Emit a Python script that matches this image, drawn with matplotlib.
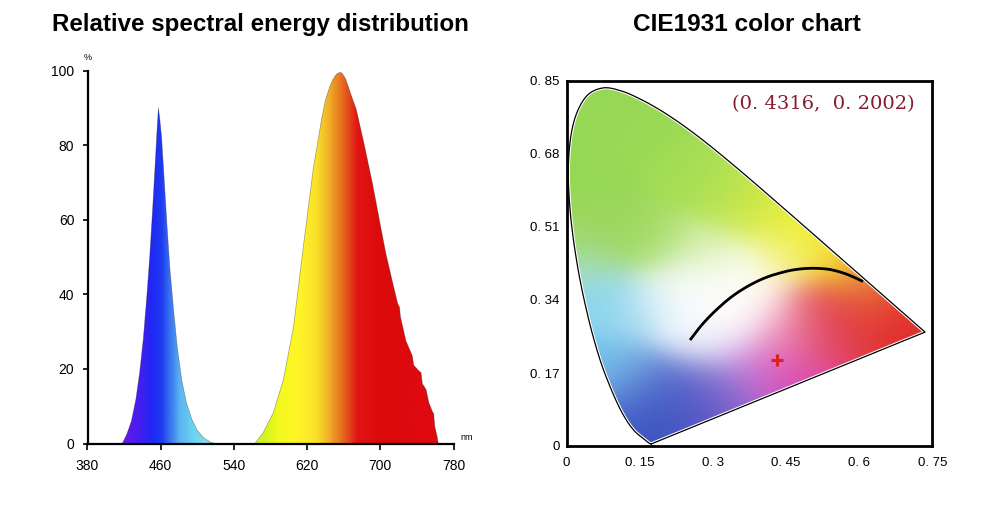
import numpy as np
import matplotlib
matplotlib.use('Agg')
import matplotlib.pyplot as plt
from matplotlib.path import Path
from matplotlib.patches import PathPatch
from matplotlib.colors import LinearSegmentedColormap

# ---------------- data: relative spectral energy distribution ----------------
wavelength = [380, 418, 423, 428, 433, 437, 441, 445, 448, 451, 454, 456, 457.5, 459, 461,
              464, 467, 470, 474, 478, 483, 488, 494, 500, 507, 515, 520,
              563, 572, 583, 594, 605, 616, 626.6, 635.7, 640, 644.8, 648, 652, 655.7, 658, 662,
              668, 673.8, 682.9, 692, 701, 706, 713.6, 719, 721, 722, 728, 735, 736.5, 742,
              744.5, 746, 750, 753, 757, 758.4, 759.5, 762, 763.4, 780]
energy = [0, 0, 2.5, 6, 12, 19, 28, 40, 50, 62, 75, 84, 90, 87, 82,
          70, 58, 47, 36, 26, 17, 11, 6.5, 3.5, 1.5, 0.3, 0,
          0, 2.9, 8.2, 17, 31, 53, 73.4, 86.8, 92, 95.7, 97.5, 99, 99.5, 99.3, 97.8,
          93.5, 89.5, 79.6, 69, 57.3, 51, 43, 37.5, 36.5, 34, 27.5, 23.5, 21, 19.5,
          19, 16, 14.5, 11, 8.5, 8, 4.6, 2, 0, 0]
x_ticks = [380, 460, 540, 620, 700, 780]
y_ticks = [0, 20, 40, 60, 80, 100]

# fill colour by wavelength
color_nm = [380, 415, 435, 450, 460, 470, 480, 495, 515, 540, 560, 575, 590, 610, 630, 645, 660, 675, 700, 780]
color_rgb = [(110, 20, 230), (110, 20, 230), (70, 30, 240), (30, 40, 245), (30, 60, 240),
             (60, 120, 240), (90, 180, 240), (110, 210, 240), (140, 225, 240), (170, 235, 140),
             (200, 240, 50), (215, 245, 30), (245, 250, 30), (255, 245, 40), (250, 225, 40),
             (240, 170, 40), (230, 100, 30), (225, 20, 20), (220, 10, 10), (225, 10, 20)]

# ---------------- data: CIE1931 chart ----------------
locus_x = [0.1741, 0.1733, 0.1714, 0.1689, 0.1644, 0.1566, 0.1440, 0.1355, 0.1241, 0.1096,
           0.0913, 0.0687, 0.0454, 0.0235, 0.0082, 0.0039, 0.0139, 0.0389, 0.0743, 0.1142,
           0.1547, 0.1929, 0.2296, 0.2658, 0.3016, 0.3373, 0.3731, 0.4087, 0.4441, 0.4788,
           0.5125, 0.5448, 0.5752, 0.6029, 0.6270, 0.6658, 0.6915, 0.7079, 0.7190, 0.7260,
           0.7300, 0.7334, 0.7347]
locus_y = [0.0050, 0.0048, 0.0051, 0.0069, 0.0109, 0.0177, 0.0297, 0.0399, 0.0578, 0.0868,
           0.1327, 0.2007, 0.2950, 0.4127, 0.5384, 0.6548, 0.7502, 0.8120, 0.8338, 0.8262,
           0.8059, 0.7816, 0.7543, 0.7243, 0.6923, 0.6589, 0.6245, 0.5896, 0.5547, 0.5202,
           0.4866, 0.4544, 0.4242, 0.3965, 0.3725, 0.3340, 0.3083, 0.2920, 0.2809, 0.2740,
           0.2700, 0.2666, 0.2653]
planck_x = [0.2531, 0.2736, 0.2941, 0.3146, 0.3351, 0.3555, 0.3760, 0.3965, 0.4170, 0.4375,
            0.4580, 0.4785, 0.4990, 0.5195, 0.5400, 0.5605, 0.5809, 0.6076]
planck_y = [0.2468, 0.2771, 0.3027, 0.3249, 0.3447, 0.3610, 0.3749, 0.3866, 0.3959, 0.4029,
            0.4087, 0.4122, 0.4138, 0.4134, 0.4110, 0.4052, 0.3971, 0.3831]
point_x, point_y = 0.4316, 0.2002
cie_xticks = [0, 0.15, 0.3, 0.45, 0.6, 0.75]
cie_xlabels = ['0', '0. 15', '0. 3', '0. 45', '0. 6', '0. 75']
cie_yticks = [0, 0.17, 0.34, 0.51, 0.68, 0.85]
cie_ylabels = ['0', '0. 17', '0. 34', '0. 51', '0. 68', '0. 85']

# colour anchors (x, y, rgb)
anchor_x = [0.07, 0.04, 0.15, 0.10, 0.05, 0.18, 0.25, 0.33, 0.40, 0.47, 0.53, 0.59, 0.44, 0.28,
            0.22, 0.28, 0.36, 0.30, 0.25, 0.36, 0.41, 0.32, 0.27,
            0.04, 0.05, 0.10, 0.16, 0.07, 0.13,
            0.17, 0.15, 0.22, 0.27, 0.30, 0.24,
            0.34, 0.36,
            0.42, 0.47, 0.44,
            0.52, 0.52, 0.60, 0.68, 0.62, 0.46, 0.55, 0.48]
anchor_y = [0.78, 0.62, 0.72, 0.52, 0.47, 0.47, 0.62, 0.58, 0.54, 0.49, 0.44, 0.39, 0.43, 0.45,
            0.36, 0.38, 0.40, 0.32, 0.29, 0.33, 0.30, 0.25, 0.23,
            0.40, 0.33, 0.30, 0.31, 0.20, 0.18,
            0.06, 0.12, 0.11, 0.08, 0.13, 0.15,
            0.12, 0.18,
            0.17, 0.18, 0.23,
            0.25, 0.31, 0.30, 0.28, 0.34, 0.28, 0.28, 0.25]
anchor_rgb = [(150, 215, 85), (150, 215, 85), (155, 218, 85), (155, 215, 90), (160, 215, 100),
              (170, 222, 110), (165, 222, 85), (185, 228, 80), (215, 235, 70), (240, 240, 45),
              (245, 230, 50), (240, 180, 60), (245, 245, 175), (210, 238, 170),
              (245, 250, 250), (252, 254, 250), (252, 252, 240), (255, 255, 255), (248, 252, 255),
              (255, 255, 255), (255, 250, 250), (245, 240, 250), (235, 240, 250),
              (170, 225, 215), (130, 210, 240), (150, 215, 240), (195, 230, 245), (110, 195, 235),
              (120, 170, 225),
              (60, 80, 190), (80, 120, 210), (70, 90, 195), (80, 85, 195), (110, 95, 200),
              (85, 105, 205),
              (150, 100, 205), (200, 150, 225),
              (215, 75, 195), (220, 65, 170), (235, 150, 210),
              (225, 65, 100), (228, 75, 85), (225, 55, 55), (225, 45, 45), (230, 90, 55),
              (240, 170, 190), (225, 60, 70), (225, 80, 130)]


def catmull_rom(xs, ys, n=12):
    p = np.column_stack([xs, ys]).astype(float)
    p = np.vstack([p[0], p, p[-1]])
    out = []
    t = np.linspace(0, 1, n, endpoint=False)[:, None]
    for i in range(1, len(p) - 2):
        p0, p1, p2, p3 = p[i - 1], p[i], p[i + 1], p[i + 2]
        seg = 0.5 * ((2 * p1) + (-p0 + p2) * t + (2 * p0 - 5 * p1 + 4 * p2 - p3) * t ** 2
                     + (-p0 + 3 * p1 - 3 * p2 + p3) * t ** 3)
        out.append(seg)
    out.append(p[-2][None, :])
    out = np.vstack(out)
    return out[:, 0], out[:, 1]


# ---------------- figure ----------------
fig = plt.figure(figsize=(9.9, 5.09), dpi=100)
sans = 'Liberation Sans'
serif = 'DejaVu Serif'

fig.text(0.2635, 0.951, 'Relative spectral energy distribution', ha='center', va='center',
         fontsize=17.4, fontweight='bold', family=sans)
fig.text(0.7545, 0.951, 'CIE1931 color chart', ha='center', va='center',
         fontsize=17.6, fontweight='bold', family=sans)

# ---- left chart ----
ax1 = fig.add_axes([87.5 / 990, 1 - 443.5 / 509, 366 / 990, 373 / 509])
cmap = LinearSegmentedColormap.from_list(
    'spec', [((n - 380) / 400, tuple(c / 255 for c in rgb)) for n, rgb in zip(color_nm, color_rgb)])
grad = np.linspace(0, 1, 800).reshape(1, -1)
img = ax1.imshow(grad, extent=(380, 780, 0, 100), aspect='auto', cmap=cmap,
                 origin='lower', interpolation='bilinear', zorder=1)
poly = ax1.fill_between(wavelength, energy, 0, facecolor='none', edgecolor='none')
img.set_clip_path(poly.get_paths()[0], transform=ax1.transData)
ax1.plot(wavelength, energy, color='#222222', lw=0.5, alpha=0.4, zorder=2)
ax1.set_xlim(380, 780)
ax1.set_ylim(0, 100)
ax1.set_xticks(x_ticks)
ax1.set_yticks(y_ticks)
for s in ['top', 'right']:
    ax1.spines[s].set_visible(False)
for s in ['left', 'bottom']:
    ax1.spines[s].set_linewidth(1.6)
    ax1.spines[s].set_zorder(3)
ax1.tick_params(direction='out', width=1.2, labelsize=10)
ax1.tick_params(axis='x', length=4, pad=7)
ax1.tick_params(axis='y', length=3.5, pad=6)
for lab in ax1.get_xticklabels() + ax1.get_yticklabels():
    lab.set_family(sans)
ax1.text(0, 1.022, '%', transform=ax1.transAxes, ha='center', va='bottom', fontsize=6.5, family=sans)
ax1.text(1.02, 0.005, 'nm', transform=ax1.transAxes, ha='left', va='bottom', fontsize=6.5, family=sans)

# ---- right chart ----
ax2 = fig.add_axes([566.5 / 990, 1 - 446 / 509, 366 / 990, 365 / 509])
gx = np.linspace(0, 0.75, 300)
gy = np.linspace(0, 0.85, 340)
GX, GY = np.meshgrid(gx, gy)
ax_ = np.array(anchor_x)[:, None, None]
ay_ = np.array(anchor_y)[:, None, None]
d2 = (GX[None] - ax_) ** 2 + (GY[None] - ay_) ** 2
w = np.exp(-d2 / (2 * 0.05 ** 2)) + 1e-12
w = w / w.sum(axis=0, keepdims=True)
cols = np.array(anchor_rgb, dtype=float) / 255.0
rgb = np.clip(np.einsum('kij,kc->ijc', w, cols), 0, 1)
im2 = ax2.imshow(rgb, extent=(0, 0.75, 0, 0.85), origin='lower', aspect='auto',
                 interpolation='bilinear', zorder=1)
sx, sy = catmull_rom(locus_x, locus_y, n=12)
lx = np.append(sx, sx[0])
ly = np.append(sy, sy[0])
path = Path(np.column_stack([lx, ly]), closed=True)
patch = PathPatch(path, facecolor='none', edgecolor='none', transform=ax2.transData)
ax2.add_patch(patch)
im2.set_clip_path(patch)
ax2.plot(lx, ly, color='white', lw=2.4, zorder=2, solid_joinstyle='round')
ax2.plot(lx, ly, color='black', lw=0.9, zorder=3, solid_joinstyle='round')
px_, py_ = catmull_rom(planck_x, planck_y, n=8)
ax2.plot(px_, py_, color='black', lw=2.0, zorder=4, solid_capstyle='butt')
ax2.plot([point_x], [point_y], marker='+', color='#e02020', markersize=9, mew=2.2, zorder=5)
ax2.text(0.527, 0.797, '(0. 4316,  0. 2002)', color='#861c2e', fontsize=14,
         family=serif, ha='center', va='center', zorder=5)
ax2.set_xlim(0, 0.75)
ax2.set_ylim(0, 0.85)
ax2.set_xticks(cie_xticks)
ax2.set_xticklabels(cie_xlabels)
ax2.set_yticks(cie_yticks)
ax2.set_yticklabels(cie_ylabels)
ax2.tick_params(length=0, labelsize=9.5)
ax2.tick_params(axis='x', pad=8)
ax2.tick_params(axis='y', pad=5)
for lab in ax2.get_xticklabels() + ax2.get_yticklabels():
    lab.set_family(sans)
for s in ax2.spines.values():
    s.set_linewidth(2.0)
    s.set_zorder(6)

fig.savefig('out.png', dpi=100)
